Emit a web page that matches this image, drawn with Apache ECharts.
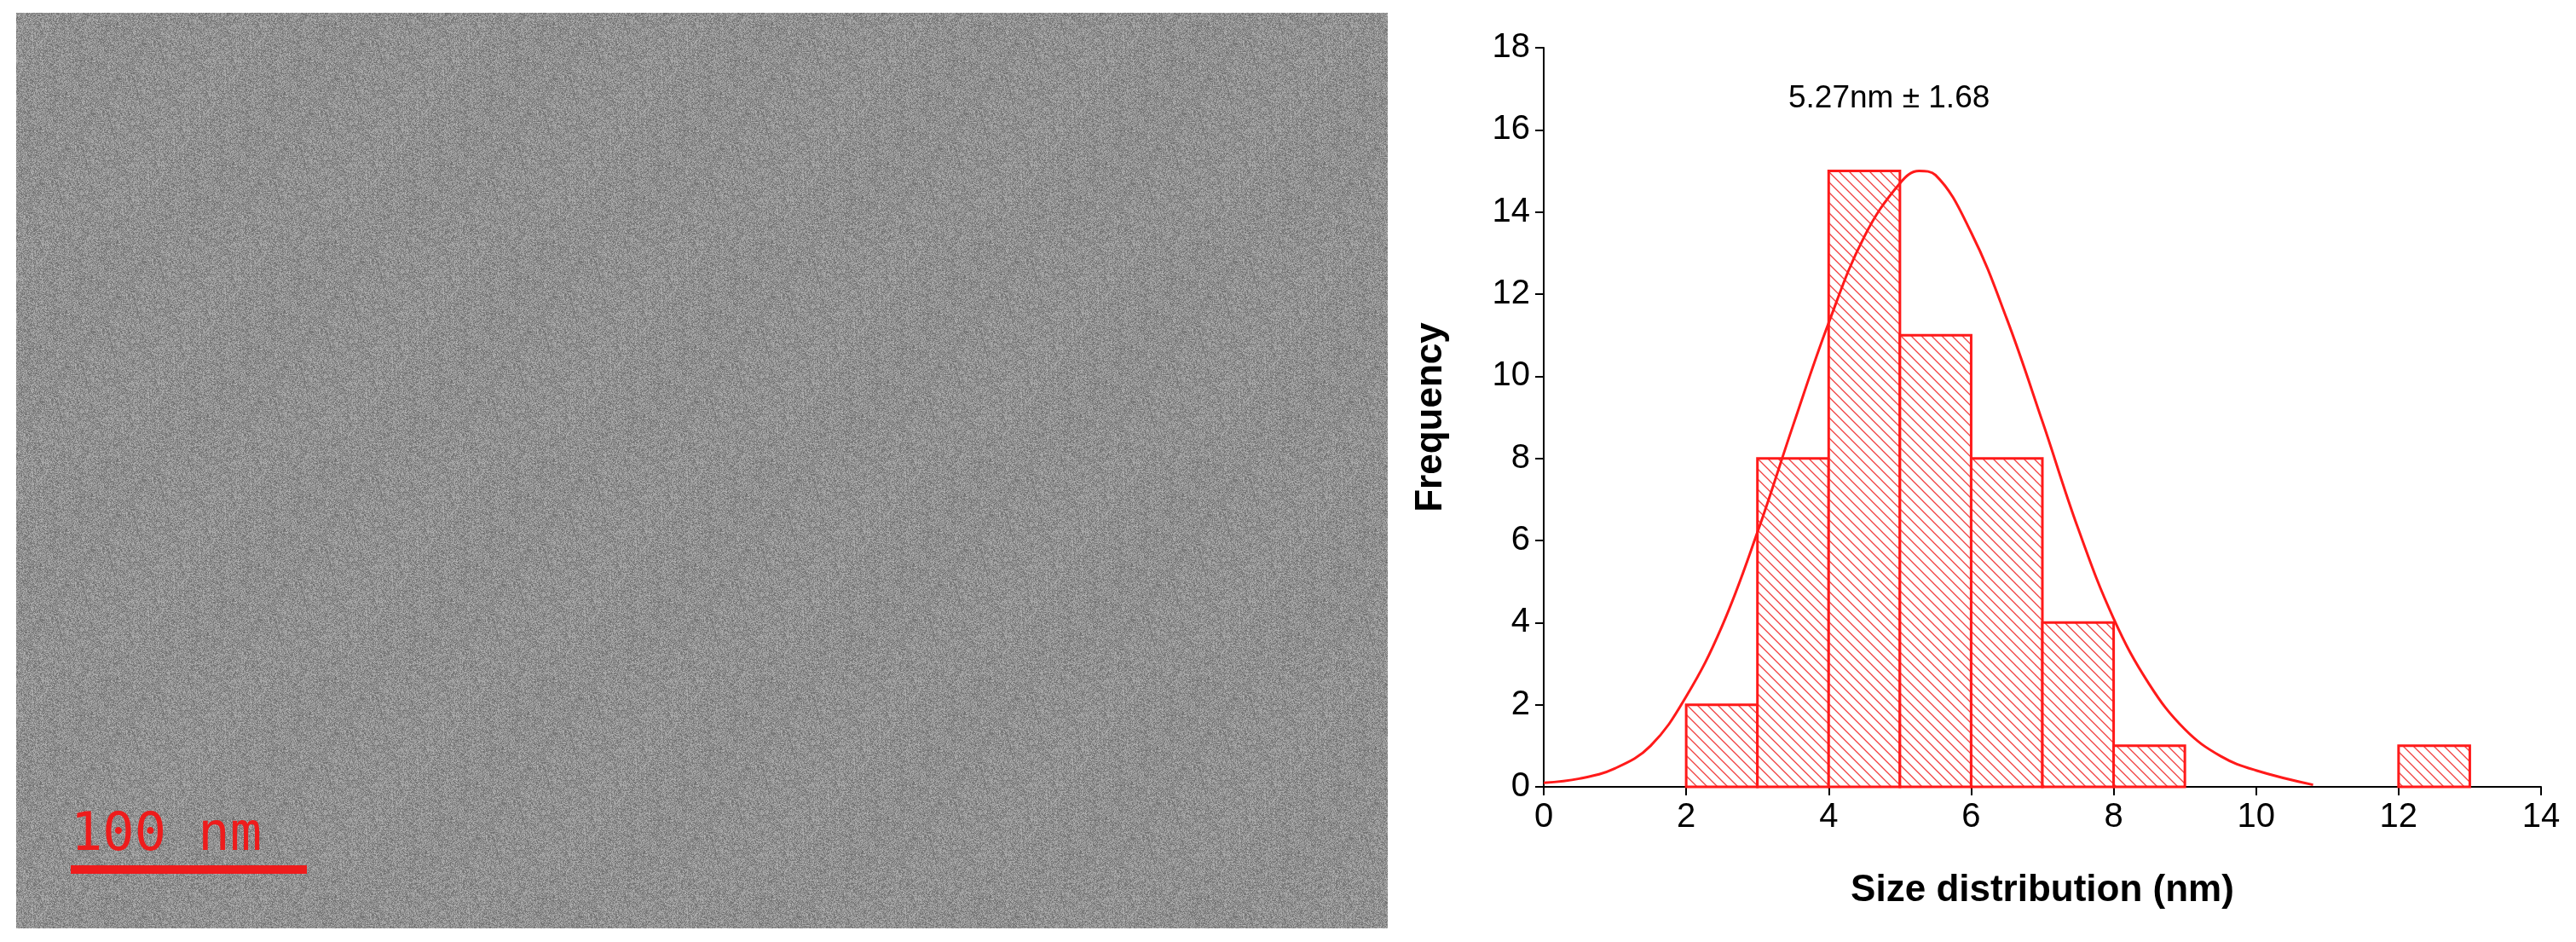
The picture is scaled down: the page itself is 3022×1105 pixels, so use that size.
<!DOCTYPE html>
<html>
<head>
<meta charset="utf-8">
<script src="https://cdn.jsdelivr.net/npm/echarts@6/dist/echarts.min.js"></script>
<style>html,body{margin:0;background:#fff}#main{width:3022px;height:1105px}</style>
</head>
<body>
<div id="main"></div>
<script>
// histogram bins: [start, end, count]
var binStart = [2, 3, 4, 5, 6, 7, 8, 12];
var binEnd = [3, 4, 5, 6, 7, 8, 9, 13];
var binCount = [2, 8, 15, 11, 8, 4, 1, 1];
// fitted curve
var fitX = [0, 0.5, 1, 1.5, 2, 2.5, 3, 3.5, 4, 4.5, 5, 5.27, 5.5, 6, 6.5, 7, 7.5, 8, 8.5, 9, 9.5, 10, 10.8];
var fitY = [0.1, 0.2, 0.45, 1.0, 2.2, 3.9, 6.2, 8.8, 11.3, 13.4, 14.7, 15, 14.9, 13.5, 11.4, 8.9, 6.3, 4.1, 2.5, 1.4, 0.75, 0.4, 0.05];
var xTicks = [0, 14, 2];
var yTicks = [0, 18, 2];

// hatch pattern for bars
var hatch = document.createElement('canvas');
hatch.width = 12; hatch.height = 12;
var hc = hatch.getContext('2d');
hc.fillStyle = '#fff'; hc.fillRect(0, 0, 12, 12);
hc.strokeStyle = '#f04040'; hc.lineWidth = 1.3;
hc.beginPath();
hc.moveTo(0, 0); hc.lineTo(12, 12);
hc.moveTo(-6, 6); hc.lineTo(6, 18);
hc.moveTo(6, -6); hc.lineTo(18, 6);
hc.stroke();

// grainy grey texture for the micrograph panel
var tex = document.createElement('canvas');
tex.width = 256; tex.height = 256;
var tc = tex.getContext('2d');
var img = tc.createImageData(256, 256);
var s = 12345;
for (var i = 0; i < 256 * 256; i++) {
  s = (s * 1103515245 + 12345) & 0x7fffffff;
  var v = 110 + (s % 70);
  img.data[i * 4] = v; img.data[i * 4 + 1] = v; img.data[i * 4 + 2] = v; img.data[i * 4 + 3] = 255;
}
tc.putImageData(img, 0, 0);

var bars = binStart.map(function (b, i) { return [b, binEnd[i], binCount[i]]; });
var curve = fitX.map(function (x, i) { return [x, fitY[i]]; });

var chart = echarts.init(document.getElementById('main'));
chart.setOption({
  animation: false,
  grid: { left: 1811, top: 56, width: 1170, height: 867 },
  xAxis: {
    type: 'value', min: xTicks[0], max: xTicks[1], interval: xTicks[2],
    name: 'Size distribution (nm)', nameLocation: 'middle', nameGap: 100,
    nameTextStyle: { fontSize: 44, fontWeight: 'bold', color: '#000', fontFamily: 'Arial, Liberation Sans' },
    axisLine: { lineStyle: { color: '#000', width: 2 } },
    axisTick: { length: 10, lineStyle: { color: '#000', width: 2 } },
    axisLabel: { fontSize: 40, color: '#000', margin: 16, fontFamily: 'Arial, Liberation Sans' },
    splitLine: { show: false }
  },
  yAxis: {
    type: 'value', min: yTicks[0], max: yTicks[1], interval: yTicks[2],
    name: 'Frequency', nameLocation: 'middle', nameGap: 110, nameRotate: 90,
    nameTextStyle: { fontSize: 44, fontWeight: 'bold', color: '#000', fontFamily: 'Arial, Liberation Sans' },
    axisLine: { show: true, lineStyle: { color: '#000', width: 2 } },
    axisTick: { show: true, length: 10, lineStyle: { color: '#000', width: 2 } },
    axisLabel: { fontSize: 40, color: '#000', margin: 16, fontFamily: 'Arial, Liberation Sans' },
    splitLine: { show: false }
  },
  graphic: [
    { type: 'rect', shape: { x: 19, y: 15, width: 1609, height: 1074 },
      style: { fill: { image: tex, repeat: 'repeat' } } },
    { type: 'text', left: 83, top: 950,
      style: { text: '100 nm', fill: '#ee1c1c', font: '62px "DejaVu Sans Mono", monospace' } },
    { type: 'rect', shape: { x: 83, y: 1015, width: 277, height: 10 }, style: { fill: '#ee1c1c' } },
    { type: 'text', left: 2098, top: 97,
      style: { text: '5.27nm ± 1.68', fill: '#000', font: '37px Arial, "Liberation Sans"' } }
  ],
  series: [
    {
      type: 'custom',
      data: bars,
      encode: { x: [0, 1], y: 2 },
      renderItem: function (params, api) {
        var p0 = api.coord([api.value(0), api.value(2)]);
        var p1 = api.coord([api.value(1), 0]);
        return {
          type: 'rect',
          shape: { x: p0[0], y: p0[1], width: p1[0] - p0[0], height: p1[1] - p0[1] },
          style: { fill: { image: hatch, repeat: 'repeat' }, stroke: '#ff1a1a', lineWidth: 3 }
        };
      }
    },
    {
      type: 'line', data: curve, smooth: 0.4, showSymbol: false,
      lineStyle: { color: '#ff1a1a', width: 3 }, z: 5
    }
  ]
});
</script>
</body>
</html>
